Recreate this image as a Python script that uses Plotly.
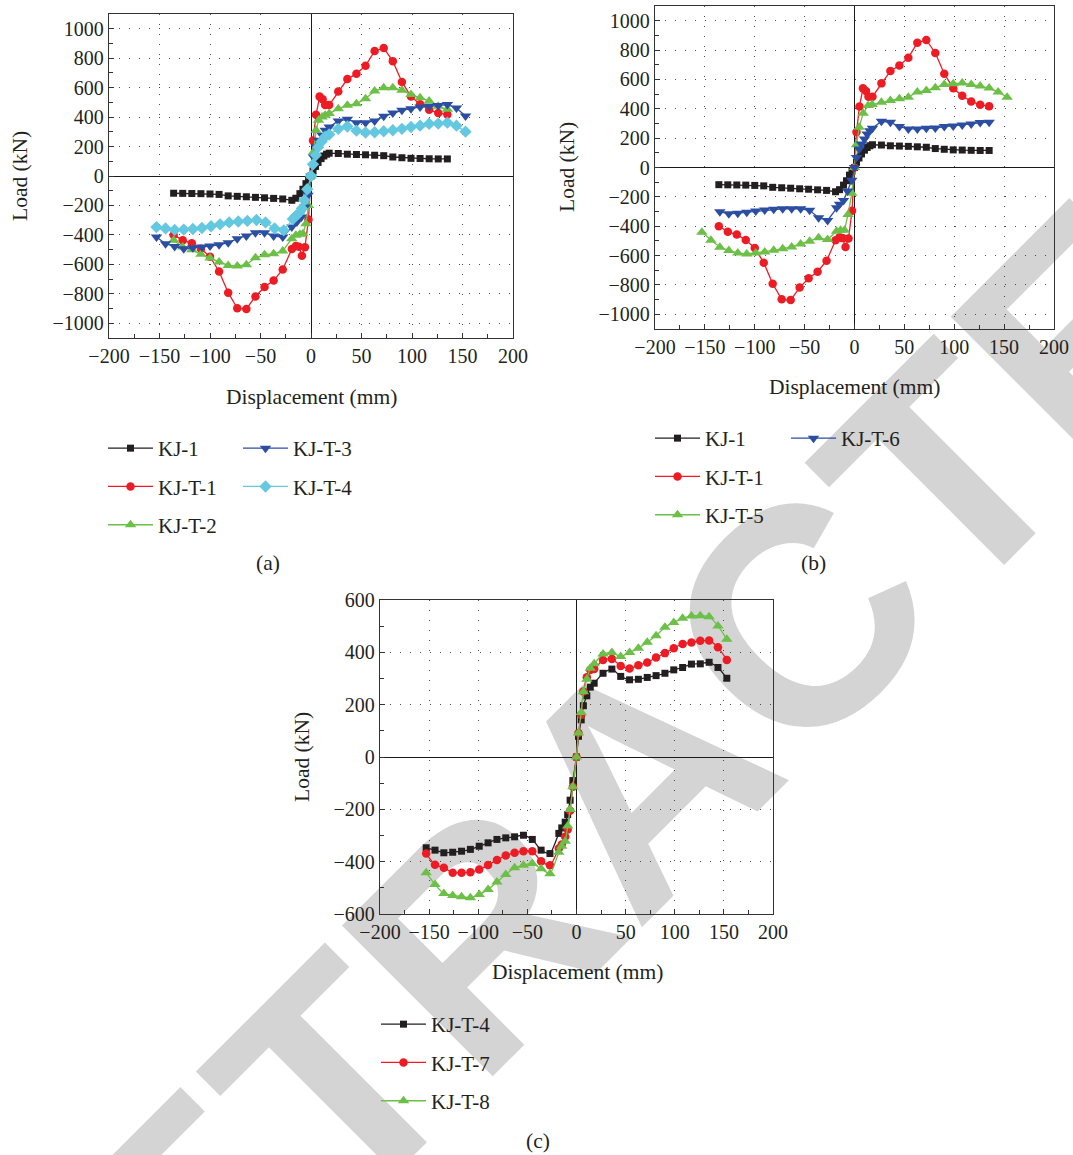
import plotly.graph_objects as go

# ---------------- data ----------------
kj1_x = [-136, -127, -118, -109, -100, -91, -82, -73, -64, -55, -46, -37, -28, -19, -15, -11, -8, -5, -2.5, 0,
         2, 4.5, 7, 10, 12.7, 15.4, 18, 27, 36, 45, 54, 63, 72, 81, 90, 99, 108, 117, 126, 135]
kj1_y = [-117, -118, -119, -120, -122, -125, -135, -138, -141, -145, -148, -152, -156, -165, -151, -120, -90, -52, -25, 0,
         35, 65, 92, 118, 136, 148, 155, 153, 148, 146, 144, 141, 138, 129, 124, 120, 119, 117, 116, 116]

kjt1_x = [-136, -127, -118, -109, -100, -91, -82, -73, -64, -55, -46, -37, -28, -19, -15, -12, -9, -6, -2.5, 0,
          2, 5, 8.5, 11.5, 14, 18, 27, 36, 45, 54, 63, 72, 81, 90, 99, 108, 117, 126, 135]
kjt1_y = [-400, -437, -457, -494, -548, -648, -792, -898, -903, -818, -754, -710, -635, -496, -475, -481, -541, -484, -295, 0,
          241, 416, 539, 521, 482, 482, 573, 658, 695, 748, 849, 869, 780, 639, 540, 488, 450, 427, 418]

kjt2_x = [-136, -127, -118, -109, -100, -91, -82, -73, -64, -55, -46, -37, -28, -19, -15, -11, -8, -5, -2.5, 0,
          2.5, 5, 7.5, 11, 14, 18, 27, 36, 45, 54, 63, 72, 81, 90, 99, 108, 117, 126, 135]
kjt2_y = [-437, -482, -500, -532, -557, -584, -607, -611, -602, -555, -534, -528, -510, -426, -403, -396, -392, -324, -200, 0,
          163, 310, 378, 401, 412, 424, 457, 480, 491, 525, 578, 600, 600, 582, 553, 532, 510, 473, 453]

kjt3_x = [-153, -144, -135, -126, -117, -108, -100, -91, -82, -73, -64, -55, -46, -37, -28, -19, -14, -9.5, -6, -3, 0,
          2.5, 5, 7.5, 11, 14, 18, 27, 36, 45, 54, 63, 72, 81, 90, 99, 108, 117, 126, 135, 144, 153]
kjt3_y = [-414, -460, -478, -494, -487, -482, -476, -467, -453, -426, -408, -385, -385, -408, -414, -347, -313, -279, -211, -131, 0,
          129, 197, 242, 276, 310, 333, 374, 385, 362, 362, 374, 405, 428, 446, 457, 469, 473, 478, 485, 462, 408]

kjt4_x = [-153, -144, -135, -126, -117, -108, -99, -90, -81, -72, -63, -54, -45, -36, -27, -18, -15, -11.5, -9, -6.5, -3.7, 0,
          2, 4.8, 7, 10.5, 14, 18, 27, 36, 45, 54, 63, 72, 81, 90, 99, 108, 117, 126, 135, 144, 153]
kjt4_y = [-347, -356, -366, -364, -360, -353, -341, -328, -315, -309, -305, -299, -315, -356, -369, -292, -271, -249, -220, -165, -90, 0,
          79, 142, 196, 234, 267, 282, 320, 336, 308, 295, 297, 304, 311, 320, 333, 342, 355, 356, 362, 342, 301]

kjt5_x = [-153, -144, -135, -126, -117, -108, -99, -90, -81, -72, -63, -54, -45, -36, -27, -18, -14, -10, -6.5, -2.7, 0,
          2, 4.7, 8.7, 13.7, 17.7, 27, 36, 45, 54, 63, 72, 81, 90, 99, 108, 117, 126, 135, 144, 153]
kjt5_y = [-441, -495, -543, -566, -582, -589, -582, -575, -564, -553, -541, -521, -502, -479, -491, -434, -427, -427, -320, -176, 0,
          155, 274, 370, 422, 429, 445, 457, 468, 479, 514, 525, 543, 566, 571, 575, 566, 555, 541, 514, 479]

kjt6_x = [-135, -126, -117, -108, -99, -90, -81, -72, -63, -54, -45, -36, -27, -18, -15, -11, -7, -2.7, 0,
          2, 4.7, 7, 10, 12.7, 15.4, 18, 27, 36, 45, 54, 63, 72, 81, 90, 99, 108, 117, 126, 135]
kjt6_y = [-301, -315, -311, -304, -297, -290, -285, -281, -281, -281, -292, -342, -361, -274, -251, -224, -160, -87, 0,
          68, 126, 160, 194, 228, 251, 267, 315, 308, 279, 263, 263, 267, 269, 279, 283, 290, 297, 306, 308]

kjt7_x = kjt4_x
kjt7_y = [-369, -412, -423, -442, -442, -440, -430, -413, -394, -376, -366, -360, -360, -398, -414, -350, -334, -305, -277, -205, -114, 0,
          92, 161, 250, 305, 333, 336, 371, 375, 348, 338, 351, 361, 380, 397, 416, 432, 438, 444, 445, 419, 371]

kjt8_x = kjt4_x
kjt8_y = [-442, -487, -522, -529, -534, -538, -525, -506, -478, -449, -423, -414, -407, -427, -446, -364, -341, -322, -264, -201, -114, 0,
          92, 170, 249, 297, 339, 356, 394, 399, 384, 399, 416, 439, 463, 496, 514, 530, 539, 540, 536, 501, 450]

x_ticks = [-200, -150, -100, -50, 0, 50, 100, 150, 200]
y_ticks_ab = [-1000, -800, -600, -400, -200, 0, 200, 400, 600, 800, 1000]
y_ticks_c = [-600, -400, -200, 0, 200, 400, 600]

# ---------------- styles ----------------
BLACK = '#231f20'
RED = '#ed1c24'
GREEN = '#6cbf47'
BLUE = '#2b4ea2'
CYAN = '#63c8e0'

STY = {
    'KJ-1': (BLACK, 'square', 7),
    'KJ-T-1': (RED, 'circle', 8.5),
    'KJ-T-2': (GREEN, 'triangle-up', 10),
    'KJ-T-3': (BLUE, 'triangle-down', 10),
    'KJ-T-4': (CYAN, 'diamond', 9.5),
    'KJ-T-5': (GREEN, 'triangle-up', 10),
    'KJ-T-6': (BLUE, 'triangle-down', 10),
    'KJ-T-7': (RED, 'circle', 8.5),
    'KJ-T-8': (GREEN, 'triangle-up', 10),
}

W, H = 1073, 1155


def px(v):
    return v / W


def py(v):
    return 1 - v / H


fig = go.Figure()


def add(name, xs, ys, xa, ya, legend, color=None, shape='linear'):
    c, sym, sz = STY[name]
    if color is not None:
        c = color
        sym, sz = 'square', 7
    fig.add_trace(go.Scatter(
        x=xs, y=ys, name=name, mode='lines+markers',
        line=dict(color=c, width=1.3, shape=shape, smoothing=0.6),
        marker=dict(symbol=sym, size=sz, color=c, line=dict(width=0)),
        xaxis=xa, yaxis=ya, legend=legend, legendgroup=legend + name,
    ))


# panel (a)
add('KJ-1', kj1_x, kj1_y, 'x', 'y', 'legend')
add('KJ-T-1', kjt1_x, kjt1_y, 'x', 'y', 'legend')
add('KJ-T-2', kjt2_x, kjt2_y, 'x', 'y', 'legend')
add('KJ-T-3', kjt3_x, kjt3_y, 'x', 'y', 'legend2')
add('KJ-T-4', kjt4_x, kjt4_y, 'x', 'y', 'legend2')
# panel (b)
add('KJ-1', kj1_x, kj1_y, 'x2', 'y2', 'legend3')
add('KJ-T-1', kjt1_x, kjt1_y, 'x2', 'y2', 'legend3')
add('KJ-T-5', kjt5_x, kjt5_y, 'x2', 'y2', 'legend3')
add('KJ-T-6', kjt6_x, kjt6_y, 'x2', 'y2', 'legend4')
# panel (c)
add('KJ-T-4', kjt4_x, kjt4_y, 'x3', 'y3', 'legend5', color=BLACK, shape='spline')
add('KJ-T-7', kjt7_x, kjt7_y, 'x3', 'y3', 'legend5', shape='spline')
add('KJ-T-8', kjt8_x, kjt8_y, 'x3', 'y3', 'legend5', shape='spline')

SERIF = 'Liberation Serif'
tickfont = dict(family=SERIF, size=20, color=BLACK)


def axis(domain, rng, ticks, minor_dtick, anchor):
    return dict(
        domain=domain, range=rng, tickvals=ticks, anchor=anchor, automargin=False,
        showline=True, linecolor='#333333', linewidth=1.4, mirror=True,
        ticks='inside', ticklen=5, tickwidth=1.2, tickcolor='#333333',
        showgrid=True, gridcolor='#4a4a4a', gridwidth=1.3, griddash='1.3px,8.7px',
        zeroline=True, zerolinecolor='#1a1a1a', zerolinewidth=1.4,
        tickfont=tickfont, fixedrange=True,
        minor=dict(dtick=minor_dtick, ticks='inside', ticklen=4, tickwidth=1.2,
                   tickcolor='#333333', showgrid=False),
    )


layout = dict(
    width=W, height=H,
    margin=dict(l=0, r=0, t=0, b=0, autoexpand=False),
    paper_bgcolor='white', plot_bgcolor='rgba(0,0,0,0)',
    xaxis=axis([px(109), px(513)], [-200, 200], x_ticks, 25, 'y'),
    yaxis=axis([py(338), py(14)], [-1100, 1100], y_ticks_ab, 100, 'x'),
    xaxis2=axis([px(655), px(1054)], [-200, 200], x_ticks, 25, 'y2'),
    yaxis2=axis([py(329), py(6)], [-1100, 1100], y_ticks_ab, 100, 'x2'),
    xaxis3=axis([px(380), px(773)], [-200, 200], x_ticks, 25, 'y3'),
    yaxis3=axis([py(914), py(600)], [-600, 600], y_ticks_c, 100, 'x3'),
)


def leg(x, y):
    return dict(x=px(x), y=py(y), xanchor='left', yanchor='top',
                bgcolor='rgba(0,0,0,0)', borderwidth=0,
                font=dict(family=SERIF, size=21, color=BLACK),
                traceorder='grouped', tracegroupgap=8, itemwidth=45,
                itemclick=False, itemdoubleclick=False)


layout['legend'] = leg(103, 428)
layout['legend2'] = leg(238, 428)
layout['legend3'] = leg(650, 418)
layout['legend4'] = leg(786, 418)
layout['legend5'] = leg(376, 1004)

fig.update_layout(**layout)

# axis titles and panel labels
titles = [
    ('Displacement (mm)', 311, 397, 0), ('Load (kN)', 20, 176, -90),
    ('Displacement (mm)', 854, 387, 0), ('Load (kN)', 567, 167, -90),
    ('Displacement (mm)', 577, 972, 0), ('Load (kN)', 302, 757, -90),
    ('(a)', 268, 563, 0), ('(b)', 813, 563, 0), ('(c)', 538, 1141, 0),
]
for txt, x, y, ang in titles:
    fig.add_annotation(text=txt, x=px(x), y=py(y), xref='paper', yref='paper',
                       showarrow=False, textangle=ang, xanchor='center', yanchor='middle',
                       font=dict(family=SERIF, size=21.5, color=BLACK))

# watermark drawn beneath the plots
fig.add_shape(type='rect', xref='paper', yref='paper', layer='below',
              x0=px(609), x1=px(629), y0=py(767), y1=py(747),
              line=dict(width=0), fillcolor='rgba(0,0,0,0)',
              label=dict(text='RETRACTED', textangle=-45, textposition='middle center',
                         font=dict(family='Liberation Sans', size=310, color='#d4d4d4', weight='bold')))

fig.write_html('out.html', config={'displayModeBar': False},
               post_script="document.body.style.margin='0px';")
